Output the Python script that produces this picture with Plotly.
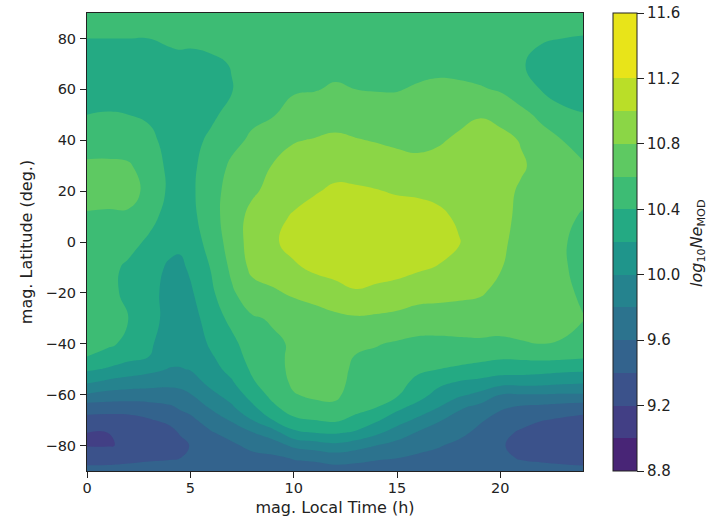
import plotly.graph_objects as go

# magnetic local time (h) and latitude (deg) of the read-off grid
mlt = [0, 1, 2, 3, 4, 4.5, 5, 6, 7, 8, 9, 10, 11, 12, 13, 14, 15, 16, 17, 18, 19, 20, 21, 22, 23, 24]
mlat = [-90, -85, -80, -75, -70, -65, -60, -55, -50, -45, -40, -30, -20, -10, 0, 10, 20, 30, 40, 50, 60, 70, 80, 90]

# log10 Ne, one list per local time column, estimated from the contour edges
ne_h00 = [9.66, 9.53, 9.39, 9.40, 9.53, 9.70, 9.98, 10.23, 10.43, 10.60, 10.67, 10.72, 10.74, 10.75, 10.76, 10.78, 10.87, 10.83, 10.71, 10.60, 10.53, 10.52, 10.60, 10.69]
ne_h01 = [9.67, 9.52, 9.39, 9.40, 9.51, 9.70, 9.93, 10.16, 10.38, 10.52, 10.64, 10.68, 10.65, 10.65, 10.70, 10.77, 10.87, 10.83, 10.72, 10.61, 10.53, 10.51, 10.60, 10.69]
ne_h02 = [9.70, 9.53, 9.42, 9.40, 9.52, 9.70, 9.91, 10.12, 10.31, 10.46, 10.55, 10.60, 10.56, 10.57, 10.66, 10.77, 10.87, 10.82, 10.70, 10.60, 10.50, 10.50, 10.60, 10.69]
ne_h03 = [9.72, 9.56, 9.48, 9.49, 9.58, 9.73, 9.90, 10.10, 10.25, 10.40, 10.43, 10.48, 10.47, 10.48, 10.57, 10.66, 10.75, 10.72, 10.65, 10.57, 10.50, 10.50, 10.60, 10.69]
ne_h04 = [9.73, 9.58, 9.49, 9.52, 9.66, 9.77, 9.92, 10.06, 10.19, 10.26, 10.30, 10.33, 10.33, 10.37, 10.46, 10.53, 10.56, 10.55, 10.53, 10.51, 10.50, 10.54, 10.63, 10.71]
ne_h045 = [9.74, 9.60, 9.52, 9.62, 9.72, 9.82, 9.94, 10.07, 10.19, 10.25, 10.28, 10.30, 10.31, 10.36, 10.44, 10.50, 10.52, 10.52, 10.51, 10.50, 10.51, 10.55, 10.64, 10.72]
ne_h05 = [9.72, 9.64, 9.61, 9.65, 9.75, 9.87, 9.99, 10.11, 10.21, 10.25, 10.27, 10.31, 10.37, 10.43, 10.50, 10.54, 10.56, 10.55, 10.53, 10.50, 10.50, 10.54, 10.64, 10.72]
ne_h06 = [9.70, 9.66, 9.69, 9.78, 9.90, 10.02, 10.15, 10.26, 10.33, 10.38, 10.43, 10.50, 10.56, 10.61, 10.67, 10.72, 10.72, 10.70, 10.64, 10.56, 10.50, 10.56, 10.66, 10.74]
ne_h07 = [9.70, 9.70, 9.76, 9.88, 10.02, 10.17, 10.28, 10.38, 10.46, 10.51, 10.55, 10.65, 10.77, 10.84, 10.89, 10.90, 10.88, 10.83, 10.75, 10.67, 10.59, 10.61, 10.68, 10.74]
ne_h08 = [9.70, 9.73, 9.86, 9.99, 10.20, 10.36, 10.48, 10.58, 10.63, 10.67, 10.70, 10.78, 10.92, 11.05, 11.08, 11.06, 10.97, 10.90, 10.83, 10.76, 10.70, 10.68, 10.70, 10.75]
ne_h09 = [9.71, 9.76, 9.90, 10.11, 10.40, 10.56, 10.66, 10.71, 10.74, 10.76, 10.77, 10.82, 10.97, 11.10, 11.17, 11.14, 11.06, 11.01, 10.90, 10.79, 10.72, 10.69, 10.71, 10.75]
ne_h10 = [9.72, 9.81, 10.04, 10.35, 10.56, 10.70, 10.79, 10.83, 10.84, 10.83, 10.82, 10.87, 11.03, 11.17, 11.27, 11.22, 11.13, 11.06, 10.99, 10.87, 10.78, 10.72, 10.72, 10.76]
ne_h11 = [9.72, 9.83, 10.10, 10.40, 10.60, 10.75, 10.83, 10.86, 10.87, 10.87, 10.87, 10.92, 11.07, 11.24, 11.33, 11.29, 11.18, 11.09, 11.01, 10.90, 10.79, 10.73, 10.72, 10.76]
ne_h12 = [9.72, 9.88, 10.15, 10.42, 10.63, 10.76, 10.84, 10.87, 10.88, 10.90, 10.91, 10.96, 11.12, 11.28, 11.38, 11.36, 11.24, 11.12, 11.03, 10.93, 10.82, 10.75, 10.73, 10.76]
ne_h13 = [9.71, 9.86, 10.08, 10.37, 10.55, 10.66, 10.71, 10.74, 10.76, 10.79, 10.84, 10.98, 11.18, 11.31, 11.38, 11.35, 11.23, 11.11, 11.01, 10.91, 10.80, 10.73, 10.72, 10.75]
ne_h14 = [9.70, 9.82, 10.00, 10.24, 10.43, 10.60, 10.68, 10.72, 10.75, 10.77, 10.81, 10.97, 11.15, 11.29, 11.36, 11.32, 11.21, 11.09, 10.99, 10.90, 10.79, 10.72, 10.71, 10.75]
ne_h15 = [9.67, 9.80, 9.93, 10.10, 10.29, 10.45, 10.62, 10.66, 10.71, 10.74, 10.78, 10.95, 11.12, 11.27, 11.35, 11.30, 11.18, 11.06, 10.97, 10.89, 10.79, 10.72, 10.70, 10.74]
ne_h16 = [9.66, 9.76, 9.87, 9.98, 10.16, 10.33, 10.49, 10.56, 10.63, 10.69, 10.75, 10.92, 11.07, 11.23, 11.33, 11.28, 11.17, 11.04, 10.96, 10.89, 10.82, 10.74, 10.70, 10.74]
ne_h17 = [9.65, 9.72, 9.82, 9.90, 10.02, 10.20, 10.33, 10.46, 10.60, 10.68, 10.75, 10.91, 11.06, 11.19, 11.28, 11.24, 11.15, 11.06, 10.98, 10.91, 10.84, 10.75, 10.69, 10.73]
ne_h18 = [9.63, 9.68, 9.74, 9.86, 9.92, 10.03, 10.24, 10.39, 10.57, 10.67, 10.76, 10.91, 11.04, 11.14, 11.21, 11.17, 11.11, 11.06, 11.03, 10.95, 10.84, 10.73, 10.68, 10.72]
ne_h19 = [9.64, 9.66, 9.70, 9.74, 9.83, 9.94, 10.15, 10.35, 10.54, 10.65, 10.77, 10.90, 11.02, 11.08, 11.12, 11.10, 11.09, 11.08, 11.06, 10.99, 10.82, 10.70, 10.65, 10.71]
ne_h20 = [9.65, 9.63, 9.62, 9.66, 9.72, 9.83, 10.00, 10.29, 10.50, 10.63, 10.77, 10.87, 10.95, 11.01, 11.03, 11.04, 11.05, 11.06, 11.05, 10.95, 10.78, 10.66, 10.63, 10.70]
ne_h21 = [9.66, 9.59, 9.54, 9.57, 9.67, 9.77, 9.99, 10.29, 10.49, 10.64, 10.79, 10.86, 10.91, 10.93, 10.95, 10.97, 10.98, 11.02, 10.99, 10.85, 10.70, 10.62, 10.63, 10.70]
ne_h22 = [9.68, 9.56, 9.46, 9.48, 9.61, 9.75, 9.99, 10.28, 10.47, 10.66, 10.80, 10.85, 10.87, 10.88, 10.88, 10.91, 10.95, 10.95, 10.87, 10.76, 10.59, 10.53, 10.62, 10.70]
ne_h23 = [9.67, 9.54, 9.43, 9.44, 9.57, 9.72, 9.98, 10.25, 10.45, 10.65, 10.79, 10.84, 10.83, 10.82, 10.82, 10.85, 10.91, 10.89, 10.80, 10.66, 10.50, 10.47, 10.60, 10.69]
ne_h24 = [9.66, 9.52, 9.40, 9.40, 9.53, 9.70, 9.98, 10.23, 10.44, 10.63, 10.76, 10.805, 10.78, 10.75, 10.74, 10.78, 10.85, 10.82, 10.72, 10.61, 10.50, 10.49, 10.59, 10.68]

columns = [ne_h00, ne_h01, ne_h02, ne_h03, ne_h04, ne_h045, ne_h05, ne_h06, ne_h07, ne_h08, ne_h09, ne_h10, ne_h11,
           ne_h12, ne_h13, ne_h14, ne_h15, ne_h16, ne_h17, ne_h18, ne_h19, ne_h20, ne_h21, ne_h22, ne_h23, ne_h24]
z = [list(row) for row in zip(*columns)]

# one viridis colour per filled band, 8.8 to 11.6 in steps of 0.2
band_colors = ["#471365", "#482576", "#423f85", "#3b528b", "#33638d", "#2c738e", "#25838e",
               "#1f958b", "#24aa83", "#3dbc74", "#5ec962", "#8bd646", "#bade28", "#e8e419"]

# plotly spreads the bands evenly over the scale, so each one gets a flat step around i / 13
n_steps = len(band_colors) - 1
band_scale = []
for i, color in enumerate(band_colors):
    band_scale.append([max(0, (i - 0.5) / n_steps), color])
    band_scale.append([min(1, (i + 0.5) / n_steps), color])

FONT = "DejaVu Sans"
INK = "#222222"

fig = go.Figure(
    go.Contour(
        x=mlt,
        y=mlat,
        z=z,
        zmin=8.8,
        zmax=11.6,
        colorscale=band_scale,
        autocontour=False,
        contours=dict(start=8.8, end=11.6, size=0.2, coloring="fill", showlines=False),
        line=dict(width=0, smoothing=1.3),
        hoverinfo="skip",
        colorbar=dict(
            x=(613 - 87) / 496,
            xanchor="left",
            y=0.5,
            yanchor="middle",
            xpad=0,
            ypad=0,
            thickness=24,
            thicknessmode="pixels",
            len=1,
            lenmode="fraction",
            outlinecolor=INK,
            outlinewidth=1,
            ticks="outside",
            ticklen=7,
            tickcolor=INK,
            tick0=8.8,
            dtick=0.4,
            tickformat=".1f",
            tickfont=dict(family=FONT, size=15, color=INK),
        ),
    )
)

fig.update_layout(
    width=719,
    height=521,
    autosize=False,
    margin=dict(l=87, r=136, t=13, b=50),
    paper_bgcolor="white",
    plot_bgcolor="white",
    font=dict(family=FONT, size=14.5, color=INK),
    annotations=[
        dict(
            text="<i>log</i><sub>10</sub><i>Ne</i><sub>MOD</sub>",
            xref="paper",
            yref="paper",
            x=(698 - 87) / 496,
            y=(471 - 243) / 458,
            xanchor="center",
            yanchor="middle",
            textangle=-90,
            showarrow=False,
            font=dict(family=FONT, size=16, color=INK),
        )
    ],
)
fig.update_xaxes(
    range=[0, 24],
    tickvals=[0, 5, 10, 15, 20],
    ticks="outside",
    ticklen=6,
    tickcolor=INK,
    ticklabelstandoff=-2,
    showline=True,
    linecolor=INK,
    linewidth=1,
    mirror=True,
    showgrid=False,
    zeroline=False,
    automargin=False,
    title=dict(text="mag. Local Time (h)", standoff=6, font=dict(size=16)),
)
fig.update_yaxes(
    range=[-90, 90],
    tickvals=[-80, -60, -40, -20, 0, 20, 40, 60, 80],
    ticks="outside",
    ticklen=6,
    tickcolor=INK,
    ticklabelstandoff=1,
    showline=True,
    linecolor=INK,
    linewidth=1,
    mirror=True,
    showgrid=False,
    zeroline=False,
    automargin=False,
    title=dict(text="mag. Latitude (deg.)", standoff=8, font=dict(size=16)),
)

fig.write_html("out.html", config=dict(displayModeBar=False), post_script="document.body.style.margin='0';")
